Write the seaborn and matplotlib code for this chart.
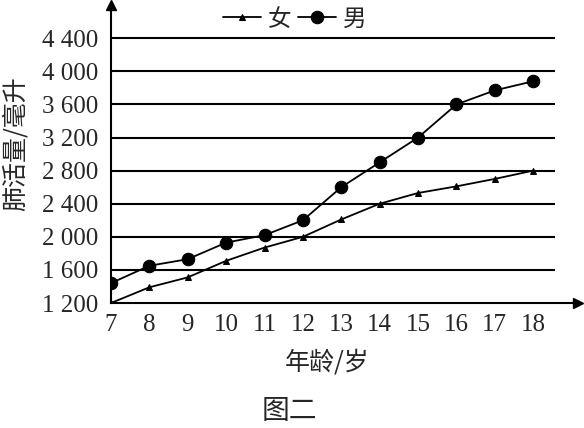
import pandas as pd
import matplotlib
matplotlib.use('Agg')
import matplotlib.pyplot as plt
import seaborn as sns

# data
ages = [7, 8, 9, 10, 11, 12, 13, 14, 15, 16, 17, 18]
female = [1200, 1390, 1510, 1710, 1870, 2000, 2210, 2400, 2530, 2610, 2700, 2800]
male = [1440, 1650, 1730, 1930, 2020, 2200, 2600, 2900, 3200, 3600, 3770, 3880]
y_ticks = [1200, 1600, 2000, 2400, 2800, 3200, 3600, 4000, 4400]
y_labels = ['1 200', '1 600', '2 000', '2 400', '2 800', '3 200', '3 600', '4 000', '4 400']

sns.set_style('white')
plt.rcParams['font.family'] = ['Liberation Serif', 'Noto Sans CJK SC', 'DejaVu Sans']
cjk = ['Noto Sans CJK SC', 'DejaVu Sans']

df_f = pd.DataFrame({'age': ages, 'value': female})
df_m = pd.DataFrame({'age': ages, 'value': male})

fig = plt.figure(figsize=(5.84, 4.28), dpi=100)
ax = fig.add_axes([0.190, 0.292, 0.80, 0.696])

# horizontal grid lines
ax.hlines(y_ticks[1:], 7, 18.57, color='black', lw=1.5, zorder=1)

sns.lineplot(data=df_f, x='age', y='value', ax=ax, color='black', lw=1.3,
             marker='^', markersize=5, markeredgecolor='black', label='女', zorder=3)
sns.lineplot(data=df_m, x='age', y='value', ax=ax, color='black', lw=1.3,
             marker='o', markersize=9, markeredgecolor='black', label='男', zorder=3)

ax.set_xlim(7, 19.17)
ax.set_ylim(1200, 4800)
ax.set_xticks(ages)
ax.set_xticklabels([str(a) for a in ages], fontsize=18)
ax.set_yticks(y_ticks)
ax.set_yticklabels(y_labels, fontsize=18)
ax.tick_params(axis='x', direction='in', length=5, width=1.2, pad=8, color='black')
ax.tick_params(axis='y', length=0, pad=9)

for s in ['top', 'right']:
    ax.spines[s].set_visible(False)
for s in ['left', 'bottom']:
    ax.spines[s].set_color('black')
    ax.spines[s].set_linewidth(1.5)

# axis arrows
ax.plot(1, 0, '>', color='black', markersize=7, transform=ax.transAxes, clip_on=False)
ax.plot(0, 1, '^', color='black', markersize=7, transform=ax.transAxes, clip_on=False)

ax.set_xlabel('')
ax.set_ylabel('')
fig.text(0.027, 0.665, '肺活量/毫升', rotation=90, ha='center', va='center',
         fontsize=18, family=cjk)
fig.text(0.56, 0.152, '年龄/岁', ha='center', va='center', fontsize=18, family=cjk)
fig.text(0.495, 0.04, '图二', ha='center', va='center', fontsize=20, family=cjk)

leg = ax.legend(loc='center', bbox_to_anchor=(0.505, 0.955), bbox_transform=fig.transFigure,
                ncol=2, frameon=False, handlelength=1.6, handletextpad=0.3,
                columnspacing=0.3, borderpad=0, prop={'family': cjk, 'size': 17})

fig.savefig('out.png', dpi=100)
